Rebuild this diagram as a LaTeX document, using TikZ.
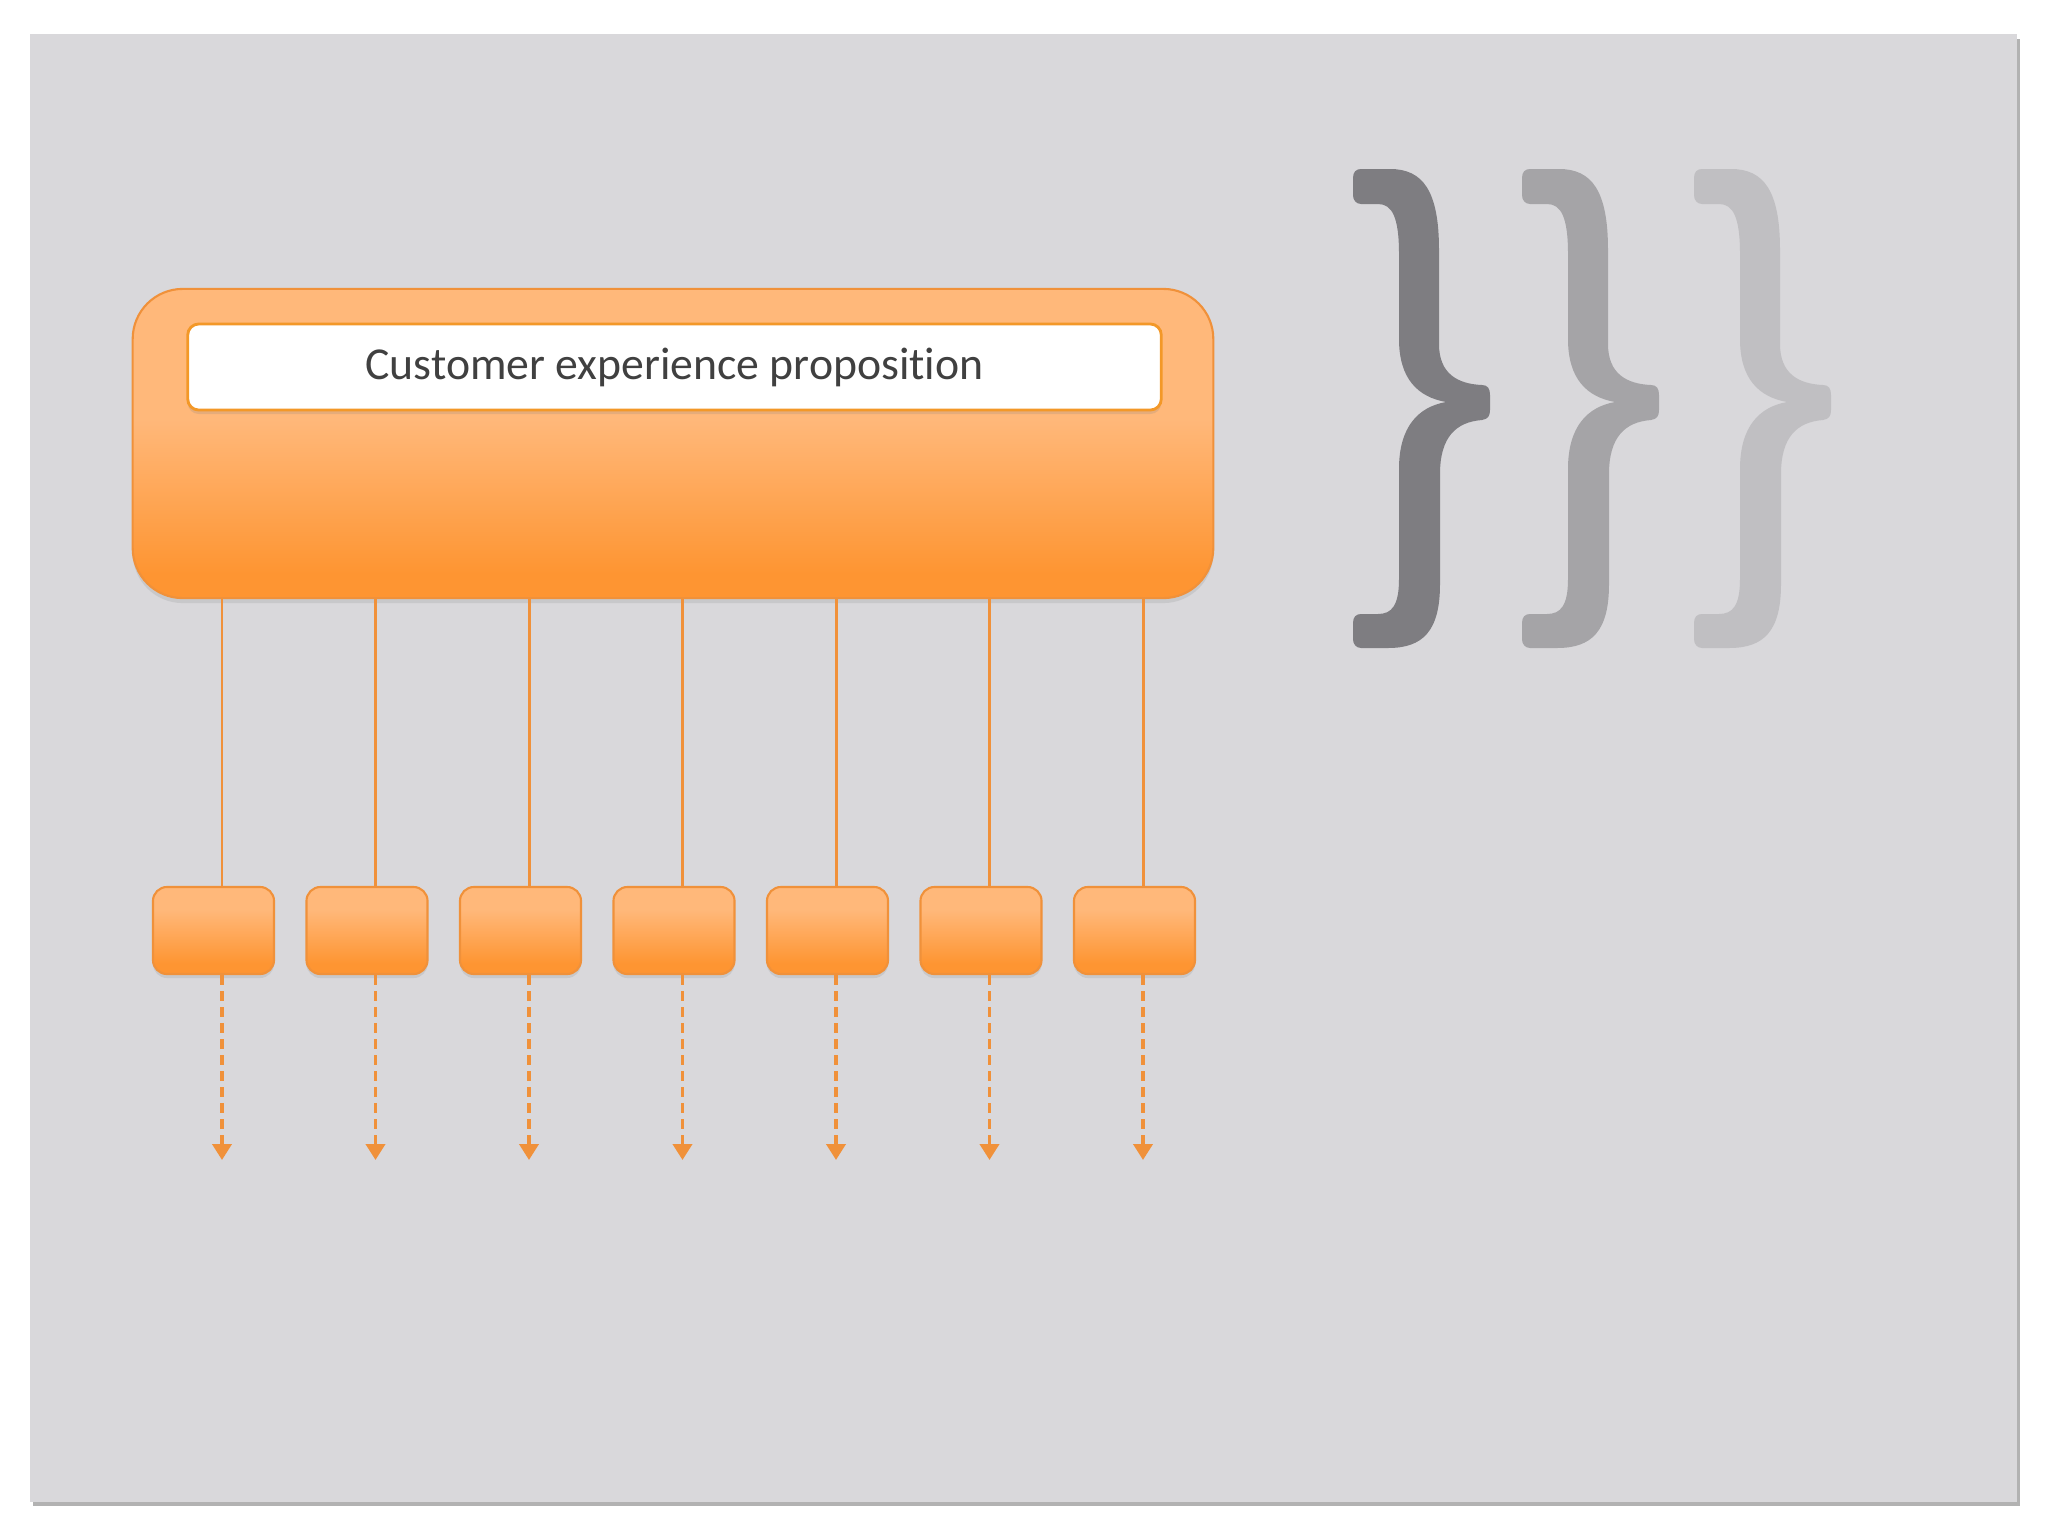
\documentclass[tikz,border=0pt]{standalone}
\usepackage{fontspec}
\setmainfont{Carlito}[Ligatures=NoCommon]
\usepackage{tikz}
\usetikzlibrary{arrows.meta,positioning,calc,shadows}

\definecolor{panel}{RGB}{217,216,219}
\definecolor{otop}{RGB}{255,184,122}
\definecolor{obot}{RGB}{254,149,50}
\definecolor{oline}{RGB}{240,145,58}
\definecolor{bardraw}{RGB}{243,152,40}
\definecolor{txt}{RGB}{64,64,64}
\definecolor{brA}{RGB}{126,125,129}
\definecolor{brB}{RGB}{165,164,167}
\definecolor{brC}{RGB}{192,191,194}
\pgfdeclareverticalshading{bigshade}{100bp}{color(0bp)=(obot); color(29bp)=(obot); color(54bp)=(otop); color(100bp)=(otop)}
\pgfdeclareverticalshading{smallshade}{100bp}{color(0bp)=(obot); color(31bp)=(obot); color(62bp)=(otop); color(100bp)=(otop)}

\begin{document}
\begin{tikzpicture}[x=0.01cm,y=-0.01cm,
  bigbox/.style={draw=oline,line width=0.6pt,shading=bigshade,rounded corners=0.5cm,
    minimum width=10.8cm,minimum height=3.09cm,
    drop shadow={shadow xshift=0pt,shadow yshift=-0.05cm,opacity=0.18}},
  titlebar/.style={draw=bardraw,line width=0.8pt,fill=white,rounded corners=0.11cm,
    minimum width=9.73cm,minimum height=0.86cm,text=txt,font=\fontsize{13pt}{15pt}\selectfont,
    drop shadow={shadow xshift=0pt,shadow yshift=-0.04cm,opacity=0.2}},
  smallbox/.style={draw=oline,line width=0.6pt,shading=smallshade,rounded corners=0.14cm,
    minimum width=1.21cm,minimum height=0.87cm,
    drop shadow={shadow xshift=0pt,shadow yshift=-0.04cm,opacity=0.18}},
  feed/.style={draw=oline,line width=0.85pt},
  flow/.style={draw=oline,line width=1.1pt,dash pattern=on 0.1cm off 0.06cm,
    -{Triangle[width=0.19cm,length=0.16cm]}}]
  \useasboundingbox (0,0) rectangle (2048,1536);
  \fill[black!30] (33,39) rectangle (2020,1506); % 影
  \fill[panel] (30,34) rectangle (2017,1502); % 背景パネル
  \node[bigbox] (prop) at (673,443.5) {};
  \node[titlebar] (title) at (674.5,367) {Customer experience proposition};
  \foreach \i in {0,...,6} {
    \coordinate (l\i) at (222+153.5*\i,0); % 縦線の位置
    \coordinate (e\i) at (222+153.5*\i,1160); % 矢印の先
    \node[smallbox] (b\i) at (213.5+153.5*\i,930.5) {};
    \draw[feed] (l\i |- prop.south) -- (l\i |- b\i.north);
    \draw[flow] (l\i |- b\i.south) -- (e\i);
  }
  % 右の括弧
  \foreach \dx/\col in {1353/brA,1522/brB,1694/brC} {
    \fill[\col,shift={(\dx,169)}] (8,0) -- (37,0)
      .. controls (70,0) and (86,22) .. (86,81) -- (86,175)
      .. controls (86,205) and (105,215) .. (129,216)
      .. controls (135,216) and (137,220) .. (137,226) -- (137,241)
      .. controls (137,247) and (135,250) .. (129,251)
      .. controls (103,253) and (87,268) .. (87,305) -- (87,415)
      .. controls (87,462) and (70,479) .. (35,479) -- (8,479)
      .. controls (3,479) and (0,475) .. (0,470) -- (0,454)
      .. controls (0,448) and (3,445) .. (8,445) -- (25,445)
      .. controls (39,445) and (46,436) .. (46,410) -- (46,300)
      .. controls (46,258) and (65,238) .. (93,233)
      .. controls (65,228) and (46,210) .. (46,170) -- (46,85)
      .. controls (46,48) and (39,35) .. (25,35) -- (8,35)
      .. controls (3,35) and (0,31) .. (0,26) -- (0,9)
      .. controls (0,3) and (3,0) .. (8,0) -- cycle;
  }
\end{tikzpicture}
\end{document}
